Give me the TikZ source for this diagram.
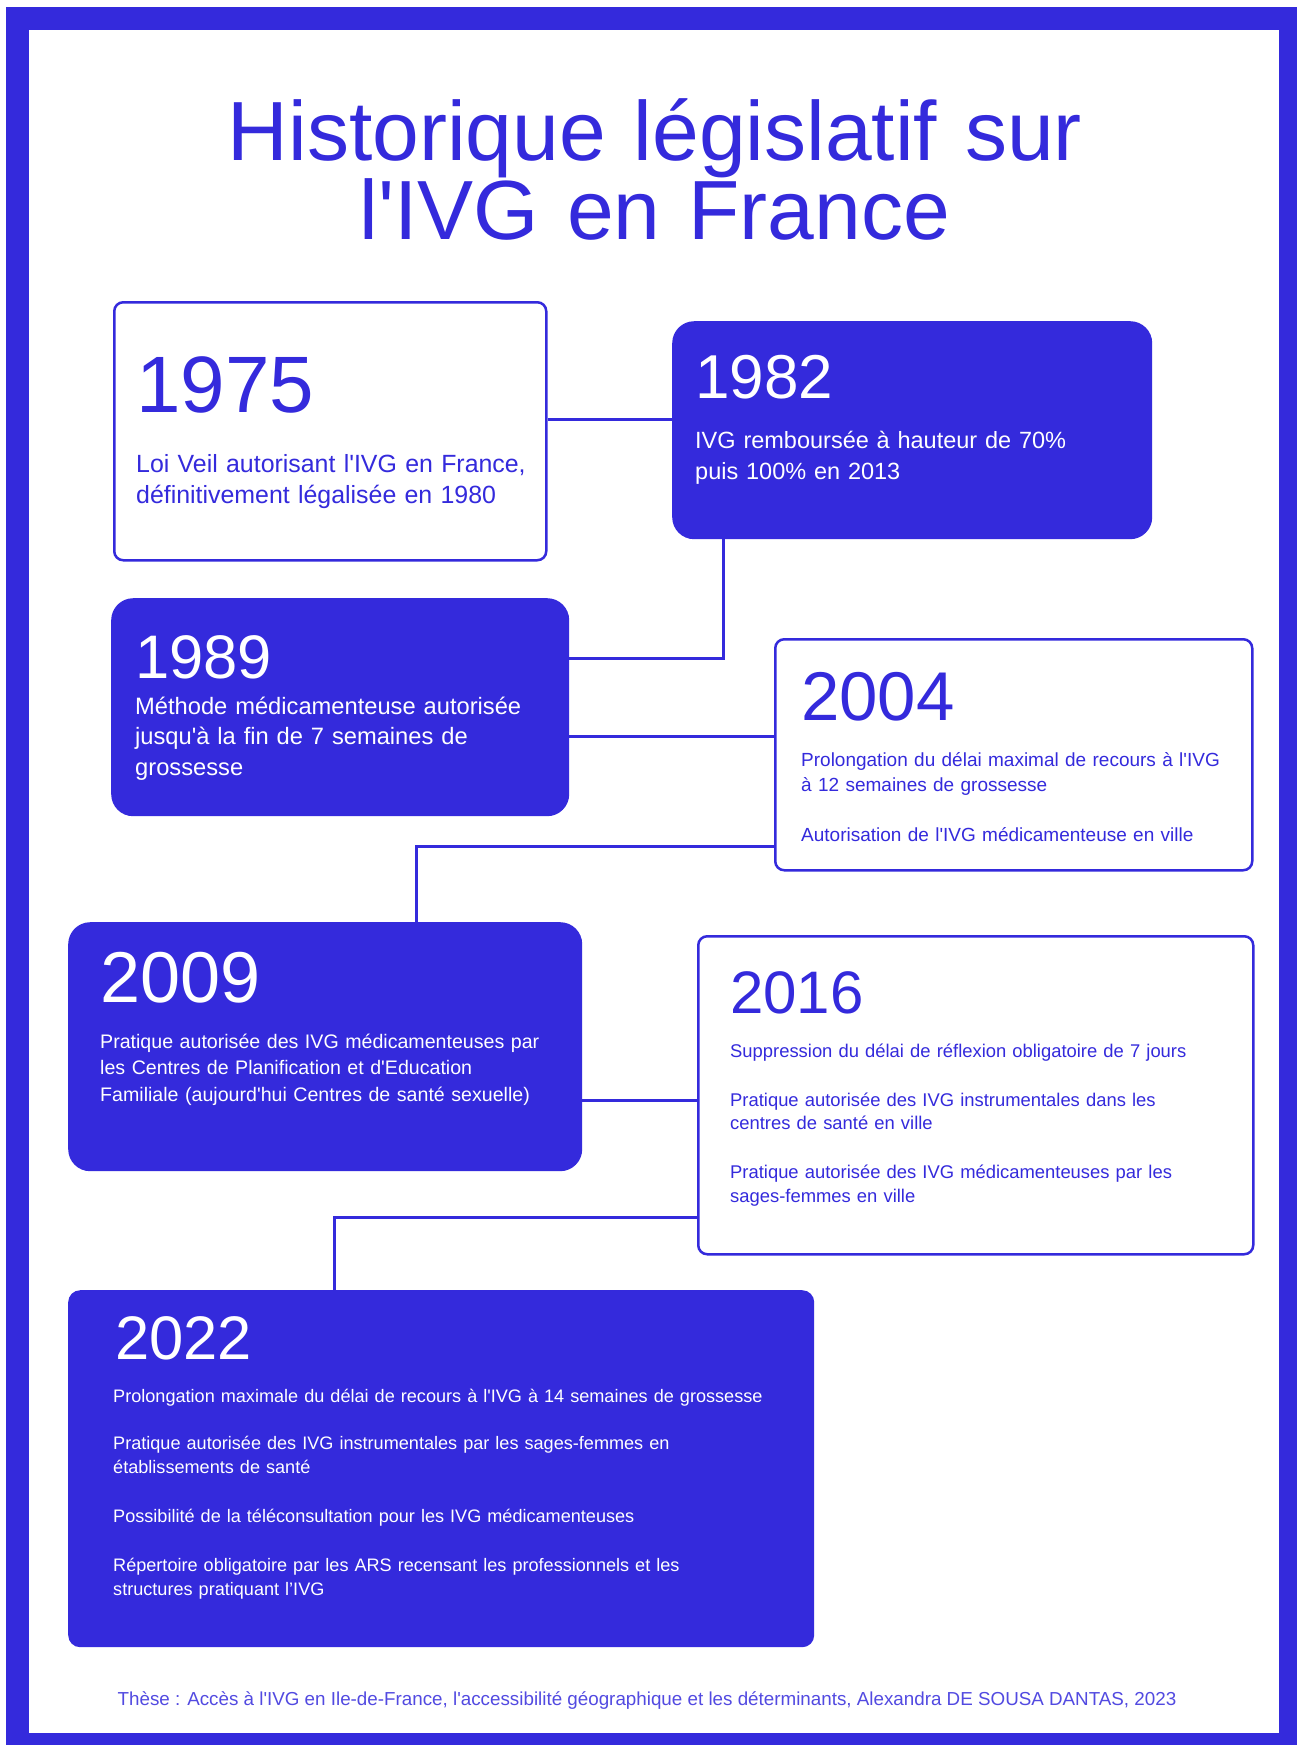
\documentclass[tikz,border=0pt]{standalone}
\usepackage{fontspec}
\setmainfont{Liberation Sans}
\definecolor{ivgblue}{RGB}{52,42,220}
\newcommand{\setfs}[2]{\fontsize{#1}{#2}\selectfont}
\newcommand{\ap}{\textquotesingle}

\begin{document}
\begin{tikzpicture}[x=1pt,y=-1pt,
    lightbox/.style={draw=ivgblue,line width=2.5pt,fill=white,rounded corners=9pt,
      anchor=north west,inner sep=0pt},
    darkbox/.style={fill=ivgblue,rounded corners=22pt,anchor=north west,inner sep=0pt},
    link/.style={draw=ivgblue,line width=3pt},
    year/.style={anchor=base west,inner sep=0pt},
    txt/.style={anchor=base west,inner sep=0pt,align=left,text width=#1}]
  \useasboundingbox (0,0) rectangle (1303,1751);
  % frame
  \fill[ivgblue] (6,7) rectangle (1297,1745);
  \fill[white] (29,30) rectangle (1279,1733);
  \node[anchor=base,inner sep=0pt,align=center,text width=1100pt,text=ivgblue,
    font=\setfs{84}{77}] (title) at (655,160) {Historique législatif sur\\l\ap IVG en France};

  % boxes
  \node[lightbox,minimum width=432pt,minimum height=258pt] (b1975) at (113,301) {};
  \node[darkbox,minimum width=480pt,minimum height=218pt] (b1982) at (672,321) {};
  \node[darkbox,minimum width=458pt,minimum height=218pt] (b1989) at (111,598) {};
  \node[lightbox,minimum width=477pt,minimum height=231pt] (b2004) at (774,638) {};
  \node[darkbox,minimum width=514pt,minimum height=249pt] (b2009) at (68,922) {};
  \node[lightbox,minimum width=555pt,minimum height=318pt] (b2016) at (697,935) {};
  \node[darkbox,rounded corners=12pt,minimum width=746pt,minimum height=357pt] (b2022) at (68,1290) {};

  % links
  \coordinate (j1) at ([yshift=12pt]b1975.east);
  \draw[link] (j1) -- (j1 -| b1982.west);
  \draw[link] ([xshift=51pt]b1982.south west) |- ([yshift=49pt]b1989.east);
  \coordinate (j3) at ([yshift=-29pt]b1989.east);
  \draw[link] (j3) -- (j3 -| b2004.west);
  \draw[link] ([yshift=-91.5pt]b2004.west) -| ([xshift=348pt]b2009.north west);
  \coordinate (j5) at ([yshift=-53.5pt]b2009.east);
  \draw[link] (j5) -- (j5 -| b2016.west);
  \draw[link] ([yshift=-122pt]b2016.west) -| ([xshift=266pt]b2022.north west);

  % 1975
  \node[year,text=ivgblue,font=\setfs{80}{80}] (y1975) at (136,412) {1975};
  \node[txt=400pt,text=ivgblue,font=\setfs{24.9}{31}] (t1975) at (136,472)
    {Loi Veil autorisant l\ap IVG en France,\\définitivement légalisée en 1980};
  % 1982
  \node[year,text=white,font=\setfs{62}{62}] (y1982) at (695,398) {1982};
  \node[txt=440pt,text=white,font=\setfs{23.5}{31}] (t1982) at (695,448)
    {IVG remboursée à hauteur de 70\%\\puis 100\% en 2013};
  % 1989
  \node[year,text=white,font=\setfs{61.5}{62}] (y1989) at (135,678) {1989};
  \node[txt=420pt,text=white,font=\setfs{23.7}{30.5}] (t1989) at (135,714)
    {Méthode médicamenteuse autorisée\\jusqu\ap à la fin de 7 semaines de\\grossesse};
  % 2004
  \node[year,text=ivgblue,font=\setfs{69}{69}] (y2004) at (801,720) {2004};
  \node[txt=440pt,text=ivgblue,font=\setfs{19}{25}] (t2004) at (801,766)
    {Prolongation du délai maximal de recours à l\ap IVG\\à 12 semaines de grossesse\\[25pt]
     Autorisation de l\ap IVG médicamenteuse en ville};
  % 2009
  \node[year,text=white,font=\setfs{72}{72}] (y2009) at (100,1002) {2009};
  \node[txt=470pt,text=white,font=\setfs{19.6}{26.5}] (t2009) at (100,1048)
    {Pratique autorisée des IVG médicamenteuses par\\les Centres de Planification et d\ap Education\\
     Familiale (aujourd\ap hui Centres de santé sexuelle)};
  % 2016
  \node[year,text=ivgblue,font=\setfs{60}{60}] (y2016) at (730,1013) {2016};
  \node[txt=500pt,text=ivgblue,font=\setfs{18.4}{23.5}] (t2016) at (730,1057)
    {Suppression du délai de réflexion obligatoire de 7 jours\\[25.5pt]
     Pratique autorisée des IVG instrumentales dans les\\centres de santé en ville\\[25.5pt]
     Pratique autorisée des IVG médicamenteuses par les\\sages-femmes en ville};
  % 2022
  \node[year,text=white,font=\setfs{61.5}{62}] (y2022) at (115,1359) {2022};
  \node[txt=680pt,text=white,font=\setfs{18.1}{24}] (t2022) at (113,1402)
    {Prolongation maximale du délai de recours à l\ap IVG à 14 semaines de grossesse\\[23pt]
     Pratique autorisée des IVG instrumentales par les sages-femmes en\\établissements de santé\\[25pt]
     Possibilité de la téléconsultation pour les IVG médicamenteuses\\[25pt]
     Répertoire obligatoire par les ARS recensant les professionnels et les\\structures pratiquant l'IVG};

  % source
  \node[anchor=base,inner sep=0pt,text=ivgblue!85,font=\setfs{18.8}{21}] (source) at (647,1705)
    {Thèse : Accès à l\ap IVG en Ile-de-France, l\ap accessibilité géographique et les déterminants, Alexandra DE SOUSA DANTAS, 2023};
\end{tikzpicture}
\end{document}
